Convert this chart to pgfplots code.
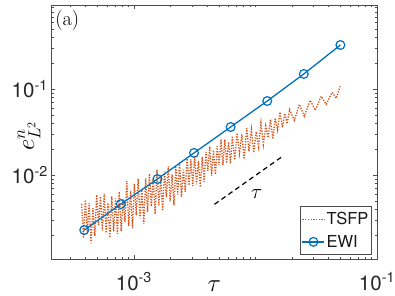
\documentclass[border=0pt]{standalone}
\usepackage[no-math]{fontspec}
\usepackage{pgfplots}
\pgfplotsset{compat=1.18}
\newfontfamily\hv{TeX Gyre Heros}
\definecolor{ewi}{rgb}{0,0.447,0.741}
\definecolor{tsfp}{rgb}{0.85,0.325,0.098}
\pgfplotstableread{
tau err
3.715e-4 4.60e-3
3.850e-4 1.845e-3
3.990e-4 5.13e-3
4.135e-4 2.178e-3
4.285e-4 4.73e-3
4.441e-4 1.600e-3
4.603e-4 4.09e-3
4.770e-4 1.941e-3
4.943e-4 5.90e-3
5.123e-4 2.61e-3
5.309e-4 5.61e-3
5.502e-4 2.239e-3
5.702e-4 6.07e-3
5.909e-4 2.109e-3
6.124e-4 4.72e-3
6.346e-4 1.858e-3
6.577e-4 5.64e-3
6.816e-4 2.203e-3
7.063e-4 5.33e-3
7.320e-4 2.065e-3
7.586e-4 6.37e-3
7.861e-4 2.213e-3
8.147e-4 5.26e-3
8.443e-4 2.818e-3
8.750e-4 8.55e-3
9.068e-4 2.553e-3
9.397e-4 6.58e-3
9.739e-4 2.393e-3
1.009e-3 7.87e-3
1.046e-3 3.41e-3
1.084e-3 9.08e-3
1.123e-3 3.13e-3
1.164e-3 6.71e-3
1.206e-3 2.704e-3
1.250e-3 9.10e-3
1.296e-3 3.715e-3
1.343e-3 1.040e-2
1.392e-3 4.30e-3
1.442e-3 9.16e-3
1.495e-3 3.50e-3
1.549e-3 1.151e-2
1.605e-3 4.45e-3
1.663e-3 9.33e-3
1.724e-3 3.82e-3
1.786e-3 1.104e-2
1.851e-3 5.51e-3
1.919e-3 1.262e-2
1.988e-3 4.92e-3
2.061e-3 1.019e-2
2.136e-3 4.42e-3
2.213e-3 1.233e-2
2.293e-3 5.92e-3
2.377e-3 1.400e-2
2.463e-3 5.51e-3
2.553e-3 1.151e-2
2.645e-3 6.38e-3
2.742e-3 1.614e-2
2.841e-3 7.55e-3
2.944e-3 1.524e-2
3.051e-3 7.45e-3
3.162e-3 1.683e-2
3.277e-3 7.78e-3
3.396e-3 1.462e-2
3.519e-3 7.21e-3
3.648e-3 1.629e-2
3.780e-3 8.34e-3
3.917e-3 1.854e-2
4.059e-3 1.109e-2
4.207e-3 2.158e-2
4.360e-3 9.86e-3
4.519e-3 1.945e-2
4.683e-3 1.016e-2
4.853e-3 2.163e-2
5.029e-3 1.303e-2
5.212e-3 2.618e-2
5.401e-3 1.306e-2
5.598e-3 2.594e-2
5.801e-3 1.374e-2
6.012e-3 2.415e-2
6.230e-3 1.355e-2
6.457e-3 2.844e-2
6.754e-3 1.500e-2
7.066e-3 3.097e-2
7.392e-3 1.782e-2
7.733e-3 2.979e-2
8.091e-3 1.528e-2
8.464e-3 3.516e-2
8.855e-3 1.884e-2
9.264e-3 3.396e-2
9.692e-3 1.820e-2
1.014e-2 3.206e-2
1.061e-2 2.143e-2
1.110e-2 4.064e-2
1.161e-2 2.259e-2
1.215e-2 3.741e-2
1.271e-2 2.723e-2
1.329e-2 4.457e-2
1.391e-2 2.636e-2
1.455e-2 4.603e-2
1.522e-2 3.357e-2
1.592e-2 5.433e-2
1.666e-2 3.589e-2
1.743e-2 5.224e-2
1.823e-2 3.963e-2
1.908e-2 5.808e-2
2.089e-2 4.345e-2
2.296e-2 6.68e-2
2.521e-2 4.84e-2
2.825e-2 7.45e-2
3.105e-2 5.69e-2
3.475e-2 8.28e-2
3.820e-2 6.68e-2
4.276e-2 9.23e-2
4.613e-2 7.85e-2
4.977e-2 1.084e-1
}\tsfpdata
\pgfplotstableread{
tau err
3.90625e-4 2.28e-3
7.8125e-4 4.58e-3
1.5625e-3 8.98e-3
3.125e-3 1.81e-2
6.25e-3 3.63e-2
1.25e-2 7.30e-2
2.5e-2 1.51e-1
5e-2 3.29e-1
}\ewidata
\begin{document}
\begin{tikzpicture}
\useasboundingbox (-51.5pt,-37pt) rectangle (343.5pt,259pt);
\begin{axis}[
  at={(0,0)}, anchor=south west,
  scale only axis, width=325.5pt, height=254pt,
  xmode=log, ymode=log,
  xmin=2.1e-4, xmax=0.1, ymin=1.047e-3, ymax=0.963,
  xtick={1e-3,1e-1},
  xticklabels={10\textsuperscript{-3},10\textsuperscript{-1}},
  ytick={1e-2,1e-1},
  yticklabels={10\textsuperscript{-2},10\textsuperscript{-1}},
  minor xtick={3e-4,4e-4,5e-4,6e-4,7e-4,8e-4,9e-4,2e-3,3e-3,4e-3,5e-3,6e-3,7e-3,8e-3,9e-3,1e-2,2e-2,3e-2,4e-2,5e-2,6e-2,7e-2,8e-2,9e-2},
  minor ytick={2e-3,3e-3,4e-3,5e-3,6e-3,7e-3,8e-3,9e-3,2e-2,3e-2,4e-2,5e-2,6e-2,7e-2,8e-2,9e-2,2e-1,3e-1,4e-1,5e-1,6e-1,7e-1,8e-1,9e-1},
  tick align=inside,
  major tick length=4pt, minor tick length=2.5pt,
  every tick/.style={black!70, line width=0.5pt},
  axis line style={black!70, line width=0.6pt},
  ticklabel style={font=\hv\fontsize{20.5}{24}\selectfont, text=black!85},
  xticklabel style={anchor=base, inner sep=0pt, yshift=-31.5pt},
  yticklabel style={anchor=east, inner sep=0pt, xshift=-3.5pt},
  xlabel={$\tau$}, ylabel={$e^n_{L^2}$},
  every axis x label/.style={at={(rel axis cs:0.5,-0.106)}, anchor=center, font=\fontsize{24}{28}\selectfont},
  every axis y label/.style={at={(rel axis cs:-0.069,0.484)}, anchor=center, rotate=90, font=\fontsize{24}{28}\selectfont},
  legend style={at={(rel axis cs:0.982,0.018)}, anchor=south east, draw=black!70, line width=0.6pt, fill=white, inner sep=1pt, font=\hv\fontsize{16.5}{19}\selectfont, nodes={inner xsep=1.5pt, inner ysep=4.5pt}, text=black!90},
  legend cell align=left,
  legend image code/.code={\draw[mark repeat=2,mark phase=2,#1] plot coordinates {(0pt,0pt) (11pt,0pt) (22pt,0pt)};},
]
\addplot[tsfp, line width=1.3pt, dash pattern=on 1.3pt off 1.4pt] table[x=tau,y=err] {\tsfpdata};
\addlegendentry{TSFP}
\addplot[ewi, line width=1.3pt, mark=o, mark size=4.4pt, mark options={line width=1.2pt, solid}] table[x=tau,y=err] {\ewidata};
\addlegendentry{EWI}
\addplot[black, line width=1.2pt, dash pattern=on 5pt off 3.5pt, forget plot] coordinates {(4.6e-3,4.55e-3) (1.7e-2,1.68e-2)};
\node[anchor=north west, inner sep=0pt, font=\fontsize{20.5}{24}\selectfont] at (rel axis cs:0.011,0.980) {(a)};
\node[inner sep=0pt, font=\fontsize{21}{25}\selectfont] at (axis cs:1.026e-2,6.0e-3) {$\tau$};
\end{axis}
\end{tikzpicture}
\end{document}
